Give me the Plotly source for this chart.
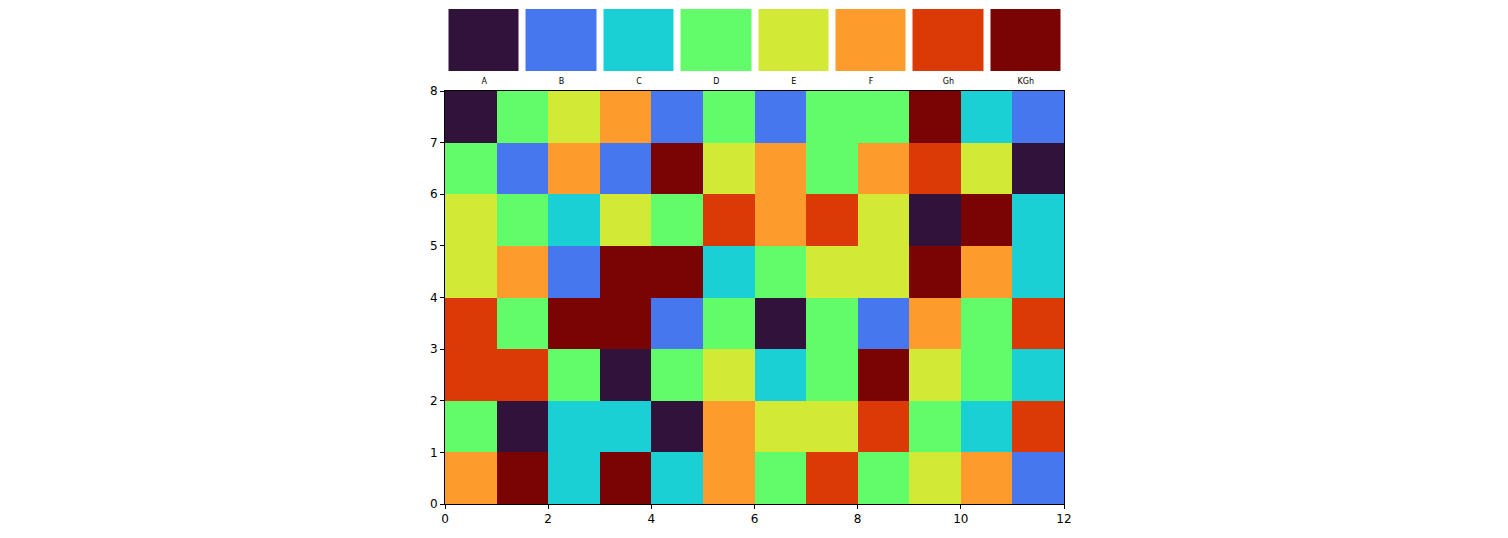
import plotly.graph_objects as go

categories = ["A", "B", "C", "D", "E", "F", "Gh", "KGh"]
colors = ["#30123b", "#4777ef", "#1bd0d5", "#62fc6b", "#d2e935", "#fe9b2d", "#db3a07", "#7a0403"]

# grid rows listed from bottom (y=0..1) to top (y=7..8), columns x=0..11
grid_rows = [
    ["F", "KGh", "C", "KGh", "C", "F", "D", "Gh", "D", "E", "F", "B"],
    ["D", "A", "C", "C", "A", "F", "E", "E", "Gh", "D", "C", "Gh"],
    ["Gh", "Gh", "D", "A", "D", "E", "C", "D", "KGh", "E", "D", "C"],
    ["Gh", "D", "KGh", "KGh", "B", "D", "A", "D", "B", "F", "D", "Gh"],
    ["E", "F", "B", "KGh", "KGh", "C", "D", "E", "E", "KGh", "F", "C"],
    ["E", "D", "C", "E", "D", "Gh", "F", "Gh", "E", "A", "KGh", "C"],
    ["D", "B", "F", "B", "KGh", "E", "F", "D", "F", "Gh", "E", "A"],
    ["A", "D", "E", "F", "B", "D", "B", "D", "D", "KGh", "C", "B"],
]

x_ticks = [0, 2, 4, 6, 8, 10, 12]
y_ticks = [0, 1, 2, 3, 4, 5, 6, 7, 8]

n = len(categories)
colorscale = []
for i, c in enumerate(colors):
    colorscale.append([i / n, c])
    colorscale.append([(i + 1) / n, c])

z = [[categories.index(v) for v in row] for row in grid_rows]
ncols = len(grid_rows[0])
nrows = len(grid_rows)

fig = go.Figure()
fig.add_trace(go.Heatmap(
    z=z,
    x=[i + 0.5 for i in range(ncols)],
    y=[j + 0.5 for j in range(nrows)],
    colorscale=colorscale, zmin=-0.5, zmax=n - 0.5,
    showscale=False, hoverinfo="skip",
))
fig.add_trace(go.Heatmap(
    z=[list(range(n))],
    x=categories,
    y=[0],
    colorscale=colorscale, zmin=-0.5, zmax=n - 0.5,
    showscale=False, xgap=7, ygap=0,
    xaxis="x2", yaxis="y2", hoverinfo="skip",
))

W, H = 1508, 538
x0, x1 = 445, 1064
y_top, y_bot = 91, 504
ly_top, ly_bot = 9, 71

axis_common = dict(
    showgrid=False, zeroline=False, showline=True, linecolor="black", linewidth=1,
    ticks="outside", ticklen=4, tickcolor="black", mirror=True, automargin=False,
    tickfont=dict(family="DejaVu Sans", size=12, color="black"),
)

fig.update_layout(
    width=W, height=H,
    margin=dict(l=0, r=0, t=0, b=0),
    paper_bgcolor="white", plot_bgcolor="white",
    showlegend=False,
    xaxis=dict(domain=[x0 / W, x1 / W], range=[0, ncols], tickvals=x_ticks, anchor="y", **axis_common),
    yaxis=dict(domain=[(H - y_bot) / H, (H - y_top) / H], range=[0, nrows], tickvals=y_ticks, anchor="x", **axis_common),
    xaxis2=dict(domain=[(x0 + 0.5) / W, (x1 + 0.5) / W], anchor="y2", showgrid=False, zeroline=False, showline=False,
                automargin=False, ticks="", ticklabelstandoff=4,
                tickfont=dict(family="DejaVu Sans", size=8, color="black")),
    yaxis2=dict(domain=[(H - ly_bot) / H, (H - ly_top) / H], anchor="x2", showgrid=False, zeroline=False,
                automargin=False, showline=False, showticklabels=False, ticks="", range=[-0.5, 0.5]),
)

fig.write_html("out.html")
